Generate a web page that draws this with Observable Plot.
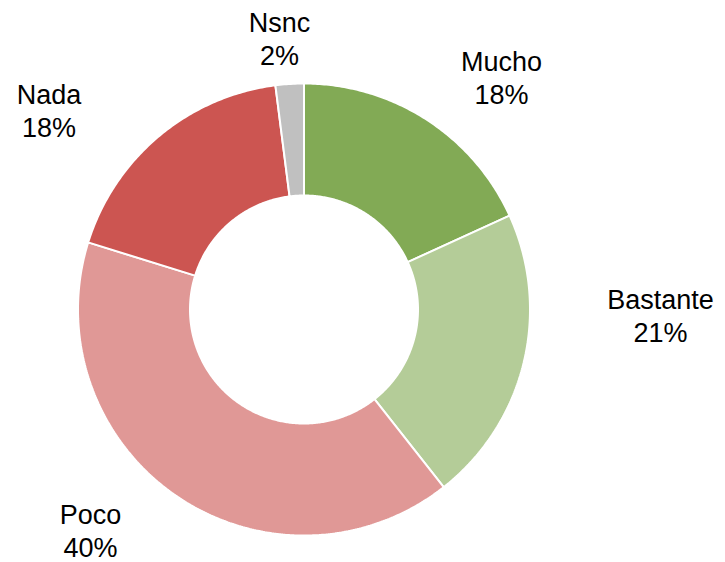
<!DOCTYPE html>
<html>
<head>
<meta charset="utf-8">
<script src="https://cdn.jsdelivr.net/npm/d3@7"></script>
<script src="https://cdn.jsdelivr.net/npm/@observablehq/plot@0.6"></script>
<style>
  html, body { margin: 0; padding: 0; background: #fff; }
</style>
</head>
<body>
<div id="chart"></div>
<script>
// ---- data ----
const categories = ["Mucho", "Bastante", "Poco", "Nada", "Nsnc"];
const values = [18, 21, 40, 18, 2];
const labels = ["18%", "21%", "40%", "18%", "2%"];
const colors = ["#82AA55", "#B4CC98", "#E09896", "#CC5551", "#C0C0C0"];

// ---- layout (pixel units relative to the donut centre) ----
const W = 725, H = 562;
const cx = 304, cy = 309.5;
const outerR = 226, innerR = 114;
const labelPos = {
  Mucho:    [197, -232.7],
  Bastante: [356, 5.3],
  Poco:     [-214, 219.8],
  Nada:     [-255.5, -199.7],
  Nsnc:     [-25, -271.7]
};

const pie = d3.pie().sort(null).value(d => d.value);
const arcs = pie(categories.map((name, i) => ({name, value: values[i], label: labels[i]})));

// ring-sector samples: outer edge (x1,y1) and inner edge (x2,y2)
const ring = [];
for (const a of arcs) {
  const n = Math.max(2, Math.ceil((a.endAngle - a.startAngle) / 0.01));
  for (let k = 0; k <= n; k++) {
    const t = a.startAngle + (a.endAngle - a.startAngle) * k / n;
    ring.push({
      name: a.data.name,
      x1: outerR * Math.sin(t), y1: -outerR * Math.cos(t),
      x2: innerR * Math.sin(t), y2: -innerR * Math.cos(t)
    });
  }
}

const textData = arcs.map(a => ({
  text: a.data.name + "\n" + a.data.label,
  x: labelPos[a.data.name][0],
  y: labelPos[a.data.name][1]
}));

const chart = Plot.plot({
  width: W,
  height: H,
  margin: 0,
  x: {domain: [-cx, W - cx], range: [0, W], axis: null},
  y: {domain: [-cy, H - cy], range: [0, H], axis: null},
  color: {domain: categories, range: colors},
  style: {fontFamily: "'Liberation Sans', Arial, sans-serif", background: "#fff"},
  marks: [
    Plot.area(ring, {x1: "x1", y1: "y1", x2: "x2", y2: "y2", z: "name", fill: "name",
      stroke: "#fff", strokeWidth: 2, strokeLinejoin: "miter"}),
    Plot.text(textData, {x: "x", y: "y", text: "text", fontSize: 27, lineHeight: 1.22,
      fill: "#000", textAnchor: "middle"})
  ]
});

document.getElementById("chart").appendChild(chart);
</script>
</body>
</html>
